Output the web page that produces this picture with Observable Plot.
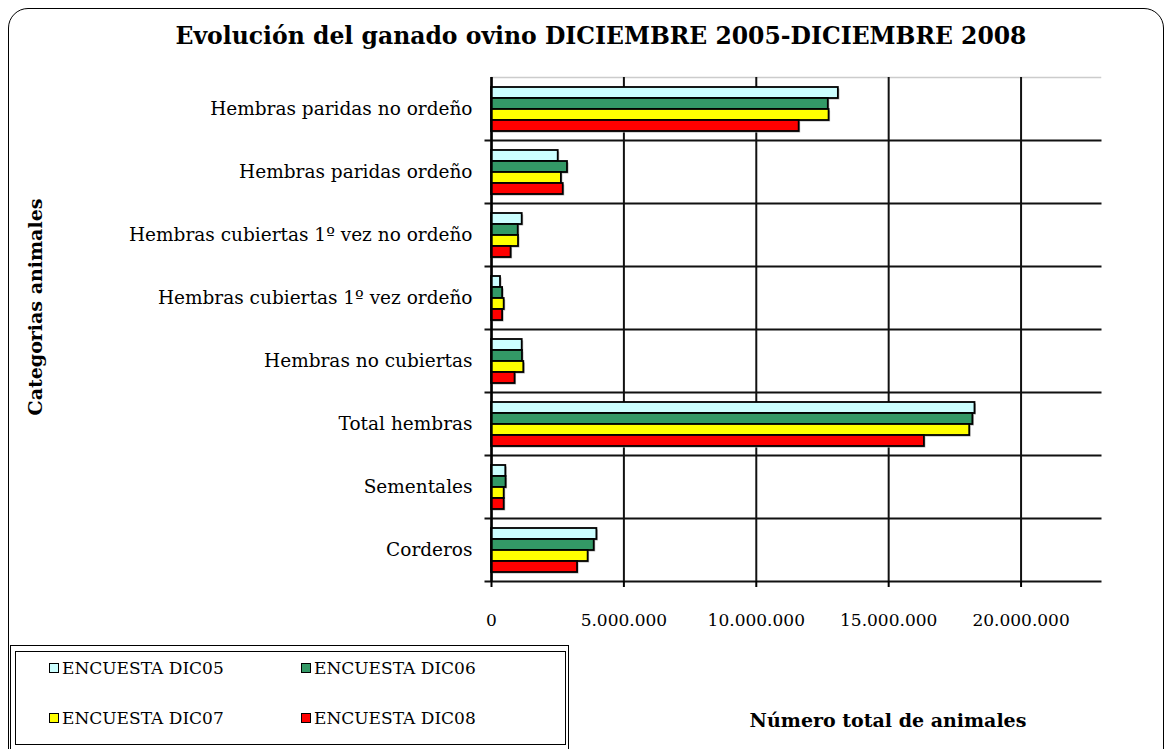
<!DOCTYPE html>
<html>
<head>
<meta charset="utf-8">
<script src="https://cdn.jsdelivr.net/npm/d3@7"></script>
<script src="https://cdn.jsdelivr.net/npm/@observablehq/plot@0.6"></script>
<style>
  html, body { margin: 0; padding: 0; background: #fff; }
  #wrap { position: relative; width: 1170px; height: 749px; overflow: hidden; font-family: "DejaVu Serif", serif; }
  #border { position: absolute; left: 8px; top: 8px; width: 1156px; height: 780px; border: 1.5px solid #000; border-radius: 20px; box-sizing: border-box; }
  #title { position: absolute; left: 0; width: 1202px; top: 22px; text-align: center; font-weight: bold; font-size: 23.5px; color: #000; white-space: nowrap; }
  #ylabel { position: absolute; left: 35px; top: 307px; transform: translate(-50%, -50%) rotate(-90deg); font-weight: bold; font-size: 19px; white-space: nowrap; }
  #xlabel { position: absolute; left: 888px; top: 720px; transform: translate(-50%, -50%); font-weight: bold; font-size: 19px; white-space: nowrap; }
  #chart { position: absolute; left: 0; top: 0; }
  #legend-outer { position: absolute; left: 10px; top: 645px; width: 559px; height: 110px; border: 1.5px solid #000; box-sizing: border-box; }
  #legend { position: absolute; left: 15px; top: 651px; width: 551px; height: 94px; border: 1.5px solid #000; box-sizing: border-box; display: grid; grid-template-columns: 252px 252px; grid-template-rows: 32px 32px; row-gap: 18px; padding-left: 33px; }
  .item { display: flex; align-items: center; font-size: 17px; white-space: nowrap; }
  .sw { width: 10px; height: 10px; border: 1.5px solid #000; margin-right: 3px; box-sizing: border-box; }
</style>
</head>
<body>
<div id="wrap">
  <div id="border"></div>
  <div id="title">Evolución del ganado ovino DICIEMBRE 2005-DICIEMBRE 2008</div>
  <div id="chart"></div>
  <div id="ylabel">Categorias animales</div>
  <div id="xlabel">Número total de animales</div>
  <div id="legend-outer"></div>
  <div id="legend"></div>
</div>
<script>
const categories = [
  "Hembras paridas no ordeño",
  "Hembras paridas ordeño",
  "Hembras cubiertas 1º vez no ordeño",
  "Hembras cubiertas 1º vez ordeño",
  "Hembras no cubiertas",
  "Total hembras",
  "Sementales",
  "Corderos"
];
const series = ["ENCUESTA DIC05", "ENCUESTA DIC06", "ENCUESTA DIC07", "ENCUESTA DIC08"];
const colors = ["#CCFFFF", "#339966", "#FFFF00", "#FF0000"];
const dic05 = [13100000, 2520000, 1160000, 340000, 1160000, 18260000, 540000, 3980000];
const dic06 = [12720000, 2870000, 1010000, 420000, 1170000, 18180000, 550000, 3880000];
const dic07 = [12750000, 2640000, 1020000, 480000, 1220000, 18060000, 480000, 3650000];
const dic08 = [11620000, 2710000, 740000, 420000, 890000, 16350000, 480000, 3250000];
const xTicks = [0, 5000000, 10000000, 15000000, 20000000];
const xMax = 23000000;

const seriesValues = [dic05, dic06, dic07, dic08];
const data = [];
categories.forEach((c, i) => {
  series.forEach((s, j) => data.push({category: c, series: s, value: seriesValues[j][i]}));
});

const locale = d3.formatLocale({decimal: ",", thousands: ".", grouping: [3], currency: ["", "€"]});
const fmt = locale.format(",d");

const chart = Plot.plot({
  width: 1170,
  height: 749,
  marginTop: 75,
  marginBottom: 166,
  marginLeft: 491,
  marginRight: 70,
  style: {fontFamily: "DejaVu Serif", fontSize: "16px", color: "#000", background: "transparent"},
  x: {domain: [0, xMax]},
  y: {domain: series, paddingInner: 0, paddingOuter: 0.76, axis: null},
  fy: {domain: categories, padding: 0},
  color: {domain: series, range: colors},
  marks: [
    Plot.frame({anchor: "top", stroke: "#cccccc", strokeWidth: 1.5, fy: () => categories[0]}),
    Plot.gridX(xTicks, {stroke: "#111", strokeOpacity: 1, strokeWidth: 2}),
    Plot.frame({anchor: "bottom", stroke: "#111", strokeWidth: 2, insetLeft: -6}),
    Plot.barX(data, {x: "value", y: "series", fy: "category", fill: "#b0b0b0", dx: 1.5, dy: 1.5}),
    Plot.barX(data, {x: "value", y: "series", fy: "category", fill: "series", stroke: "#000", strokeWidth: 1.8}),
    Plot.ruleX([0], {stroke: "#000", strokeWidth: 2.4}),
    Plot.axisX(xTicks, {tickFormat: fmt, tickSize: 6, tickPadding: 26, strokeWidth: 2, fontSize: 17, label: null}),
    Plot.axisFy({anchor: "left", tickSize: 0, tickPadding: 19, fontSize: 18.5, label: null})
  ]
});
document.getElementById("chart").appendChild(chart);

const legend = document.getElementById("legend");
[0, 1, 2, 3].forEach(j => {
  const it = document.createElement("div");
  it.className = "item";
  const sw = document.createElement("span");
  sw.className = "sw";
  sw.style.background = colors[j];
  it.appendChild(sw);
  it.appendChild(document.createTextNode(series[j]));
  legend.appendChild(it);
});
</script>
</body>
</html>
